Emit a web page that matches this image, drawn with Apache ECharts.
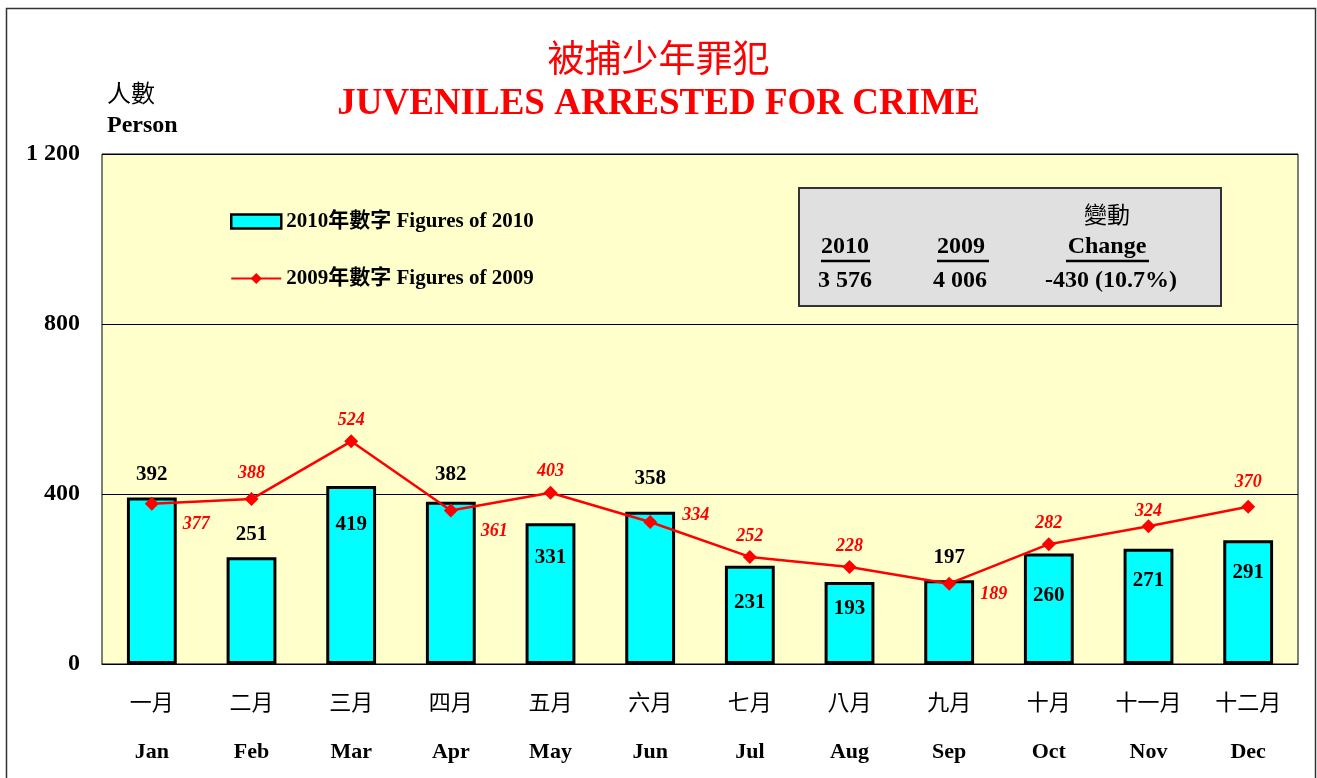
<!DOCTYPE html>
<html>
<head>
<meta charset="utf-8">
<script src="https://cdn.jsdelivr.net/npm/echarts@6/dist/echarts.min.js"></script>
<style>
html, body { margin: 0; padding: 0; background: #fff; }
#main { width: 1317px; height: 778px; }
</style>
</head>
<body>
<div id="main"></div>
<script>
// 月份
var monthsZh = ['一月', '二月', '三月', '四月', '五月', '六月', '七月', '八月', '九月', '十月', '十一月', '十二月'];
var monthsEn = ['Jan', 'Feb', 'Mar', 'Apr', 'May', 'Jun', 'Jul', 'Aug', 'Sep', 'Oct', 'Nov', 'Dec'];
// 2010 / 2009 數字
var figures2010 = [392, 251, 419, 382, 331, 358, 231, 193, 197, 260, 271, 291];
var figures2009 = [377, 388, 524, 361, 403, 334, 252, 228, 189, 282, 324, 370];
var yTicks = [0, 400, 800, 1200];
// 摘要
var summaryHead = ['2010', '2009', 'Change'];
var summaryVals = ['3 576', '4 006', '-430 (10.7%)'];

// label placement (style only)
var barLabelInside = [false, false, true, false, true, false, true, true, false, true, true, true];
var barLabelShift = [0, 0, 22, -5, 18, -11, 20, 10, 0, 26, 15, 16];
var lineLabelRight = [true, false, false, true, false, true, false, false, true, false, false, false];
var lineLabelShift = [[19, 21], [0, -5], [0, 0], [18, 21], [0, 0], [20, -7], [0, 0], [0, 0], [19, 11], [0, 0], [0, 6], [0, -3]];

var serif = '"Liberation Serif", "Times New Roman", "Noto Sans CJK TC", serif';
var cjk = '"Noto Sans CJK TC", "Liberation Serif", serif';

var chart = echarts.init(document.getElementById('main'));

var barData = figures2010.map(function(v, i) {
	if(!barLabelInside[i]) {
		return { value: v, label: { position: 'top', distance: 12, offset: [0, barLabelShift[i]] } };
	}
	return { value: v, label: { position: 'insideTop', distance: 6, offset: [0, barLabelShift[i]] } };
});

var lineData = figures2009.map(function(v, i) {
	if(lineLabelRight[i]) {
		return { value: v, label: { position: 'right', distance: 5, offset: lineLabelShift[i] } };
	}
	return { value: v, label: { position: 'top', distance: 5, offset: lineLabelShift[i] } };
});

function txt(x, y, s, family, size, weight, align) {
	return {
		type: 'text', z: 11, x: x, y: y,
		style: { text: s, fontFamily: family, fontSize: size, fontWeight: weight, fill: '#000', align: align || 'center' }
	};
}

var option = {
	backgroundColor: '#fff',
	textStyle: { fontFamily: serif },
	title: [{
		text: '被捕少年罪犯',
		left: 'center',
		top: 34,
		textStyle: { color: '#ff0000', fontFamily: cjk, fontSize: 37, fontWeight: 'normal' }
	}, {
		text: 'JUVENILES ARRESTED FOR CRIME',
		left: 'center',
		top: 81,
		textStyle: { color: '#ff0000', fontFamily: serif, fontSize: 37, fontWeight: 'bold' }
	}],
	legend: {
		orient: 'vertical',
		left: 225,
		top: 206,
		itemWidth: 50,
		itemHeight: 14,
		itemGap: 36,
		textStyle: { fontFamily: serif, fontSize: 21, fontWeight: 'bold', color: '#000' },
		data: [
			{ name: '2010年數字 Figures of 2010', icon: 'rect', itemStyle: { borderWidth: 2.5 } },
			{ name: '2009年數字 Figures of 2009' }
		]
	},
	grid: {
		left: 102,
		right: 19,
		top: 154,
		bottom: 114,
		show: true,
		backgroundColor: '#ffffcc',
		borderColor: '#000',
		borderWidth: 1
	},
	xAxis: {
		type: 'category',
		data: monthsZh.map(function(z, i) { return z + '\n' + monthsEn[i]; }),
		axisTick: { show: false },
		axisLine: { lineStyle: { color: '#000' } },
		axisLabel: {
			margin: 13,
			interval: 0,
			lineHeight: 50,
			fontSize: 22,
			color: '#000',
			formatter: function(v) {
				var p = v.split('\n');
				return '{zh|' + p[0] + '}\n{en|' + p[1] + '}';
			},
			rich: {
				zh: { fontFamily: cjk, fontSize: 22, fontWeight: 'normal', lineHeight: 50, color: '#000' },
				en: { fontFamily: serif, fontSize: 22, fontWeight: 'bold', lineHeight: 50, color: '#000' }
			}
		}
	},
	yAxis: {
		type: 'value',
		min: yTicks[0],
		max: yTicks[yTicks.length - 1],
		interval: 400,
		axisLine: { show: false },
		axisTick: { show: false },
		splitLine: { lineStyle: { color: '#000', width: 1 } },
		axisLabel: {
			margin: 22,
			fontSize: 24,
			fontWeight: 'bold',
			fontFamily: serif,
			color: '#000',
			formatter: function(v) {
				return String(v).replace(/\B(?=(\d{3})+(?!\d))/g, ' ');
			}
		}
	},
	series: [{
		name: '2010年數字 Figures of 2010',
		type: 'bar',
		barWidth: '50%',
		data: barData,
		itemStyle: { color: '#00ffff', borderColor: '#000', borderWidth: 3 },
		label: {
			show: true,
			color: '#000',
			fontFamily: serif,
			fontSize: 21,
			fontWeight: 'bold'
		},
		z: 2
	}, {
		name: '2009年數字 Figures of 2009',
		type: 'line',
		data: lineData,
		symbol: 'diamond',
		symbolSize: 14,
		lineStyle: { color: '#ff0000', width: 2.5 },
		itemStyle: { color: '#ff0000' },
		label: {
			show: true,
			color: '#ff0000',
			fontFamily: serif,
			fontSize: 18,
			fontWeight: 'bold',
			fontStyle: 'italic'
		},
		z: 3
	}],
	graphic: [
		// 外框
		{ type: 'rect', shape: { x: 6.5, y: 8.5, width: 1309, height: 790 }, style: { fill: 'none', stroke: '#333', lineWidth: 1.5 }, z: -1, silent: true },
		// 人數 Person
		txt(107, 81, '人數', cjk, 24, 'normal', 'left'),
		txt(107, 114, 'Person', serif, 24, 'bold', 'left'),
		// 摘要框
		{ type: 'rect', shape: { x: 799, y: 188, width: 422, height: 118 }, style: { fill: '#e0e0e0', stroke: '#333', lineWidth: 2 }, z: 10 },
		txt(1107, 203, '變動', cjk, 23, 'normal'),
		txt(845, 235, summaryHead[0], serif, 24, 'bold'),
		txt(961, 235, summaryHead[1], serif, 24, 'bold'),
		txt(1107, 235, summaryHead[2], serif, 24, 'bold'),
		{ type: 'line', z: 11, shape: { x1: 821, y1: 261, x2: 870, y2: 261 }, style: { stroke: '#000', lineWidth: 2.5 } },
		{ type: 'line', z: 11, shape: { x1: 937, y1: 261, x2: 989, y2: 261 }, style: { stroke: '#000', lineWidth: 2.5 } },
		{ type: 'line', z: 11, shape: { x1: 1066, y1: 261, x2: 1149, y2: 261 }, style: { stroke: '#000', lineWidth: 2.5 } },
		txt(845, 269, summaryVals[0], serif, 24, 'bold'),
		txt(960, 269, summaryVals[1], serif, 24, 'bold'),
		txt(1111, 269, summaryVals[2], serif, 24, 'bold')
	]
};

chart.setOption(option);
</script>
</body>
</html>
